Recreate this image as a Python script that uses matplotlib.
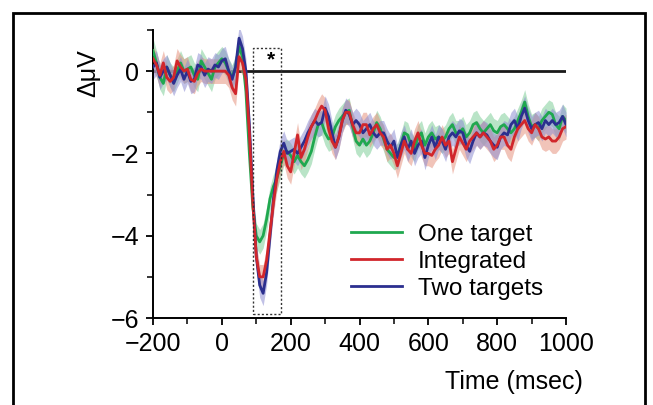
import numpy as np
import matplotlib.pyplot as plt
from matplotlib.patches import Rectangle
from matplotlib.ticker import MultipleLocator

# time axis, 10 ms steps
time_ms = list(range(-200, 1001, 10))

one_target = [
    0.5, 0.2, -0.15, -0.3, 0.1, -0.1, -0.2, 0.0, 0.2, 0.0,
    0.05, 0.1, -0.1, -0.2, 0.25, 0.1, -0.05, -0.2, 0.1, 0.2,
    0.3, 0.2, 0.0, -0.15, 0.1, 0.6, 0.35, -0.5, -2.0, -3.3,
    -4.0, -4.15, -4.0, -3.6, -3.1, -2.8, -2.6, -2.3, -2.0, -1.95,
    -2.05, -2.2, -2.05, -2.2, -2.3, -2.15, -1.95, -1.6, -1.3, -1.25,
    -1.5, -1.65, -1.6, -1.35, -1.2, -1.1, -1.0, -0.95, -1.35, -1.7,
    -1.8, -1.65, -1.8, -1.7, -1.5, -1.25, -1.4, -1.65, -1.9, -2.0,
    -2.1, -2.05, -1.8, -1.5, -1.55, -1.8, -1.9, -1.6, -1.5, -1.8,
    -1.6, -1.5, -1.65, -1.6, -1.7, -1.6, -1.4, -1.3, -1.5, -1.5,
    -1.4, -1.6, -1.5, -1.3, -1.25, -1.4, -1.5, -1.4, -1.3, -1.45,
    -1.5, -1.35, -1.3, -1.4, -1.5, -1.4, -1.2, -1.0, -0.75, -1.1,
    -1.35, -1.3, -1.4, -1.2, -1.1, -1.0, -1.05, -1.3, -1.4, -1.1,
    -1.2,
]

integrated = [
    0.3, 0.15, -0.1, 0.2, -0.15, -0.25, -0.15, 0.25, 0.1, 0.0,
    0.05, -0.2, -0.25, -0.05, 0.05, 0.0, 0.0, 0.0, 0.0, 0.0,
    0.0, 0.0, -0.1, -0.4, -0.55, 0.35, 0.2, -0.2, -1.5, -3.2,
    -4.5, -5.0, -5.0, -4.6, -3.9, -3.2, -2.6, -2.2, -1.95, -2.3,
    -2.45, -2.0, -1.55, -2.1, -1.9, -1.6, -1.35, -1.2, -1.0, -0.85,
    -0.95, -1.4, -1.7, -1.85, -1.6, -1.2, -1.0, -1.0, -1.3, -1.5,
    -1.5, -1.3, -1.3, -1.55, -1.4, -1.3, -1.5, -1.6, -1.9, -1.8,
    -2.0, -2.3, -2.0, -1.7, -1.9, -2.0, -1.7, -1.5, -1.8, -2.0,
    -2.0, -2.05, -1.9, -1.8, -1.6, -1.8, -1.7, -2.2, -1.9, -1.6,
    -1.75, -1.9, -1.7, -1.6, -1.5, -1.6, -1.5, -1.6, -1.7, -1.9,
    -1.8, -1.6, -1.6, -1.8, -1.9, -1.6, -1.4, -1.3, -1.2, -1.4,
    -1.5, -1.3, -1.4, -1.6, -1.65, -1.6, -1.7, -1.7, -1.6, -1.4,
    -1.35,
]

two_targets = [
    0.1, 0.2, -0.15, 0.0, 0.1, -0.1, -0.3, -0.1, 0.05, -0.2,
    0.0, -0.25, -0.2, 0.15, 0.1, -0.1, 0.05, 0.0, 0.15, 0.1,
    0.25, 0.3, 0.0, -0.2, 0.1, 0.8, 0.55, 0.0, -1.3, -3.0,
    -4.5, -5.2, -5.4, -4.9, -4.0, -3.1, -2.4, -1.95, -1.75, -2.0,
    -1.95, -1.9, -2.0, -1.85, -1.7, -1.5, -1.35, -1.2, -1.3, -1.25,
    -0.9, -1.1, -1.5, -1.85, -1.6, -1.2, -0.95, -1.05, -1.3, -1.2,
    -1.3, -1.5, -1.4, -1.3, -1.5, -1.6, -1.5, -1.5, -1.7, -1.85,
    -1.7, -2.1, -1.8, -1.6, -1.9, -1.7, -2.0, -1.8, -1.7, -2.1,
    -1.8, -1.6, -1.85, -1.6, -1.7, -1.9, -1.6, -1.5, -1.6, -1.45,
    -1.5, -1.8, -1.95, -1.7, -1.5, -1.6, -1.5, -1.55, -1.7, -1.8,
    -1.85, -1.6, -1.5, -1.55, -1.3, -1.2, -1.4, -1.1, -0.9, -1.2,
    -1.4, -1.3, -1.25, -1.4, -1.2, -1.3, -1.2, -1.3, -1.25, -1.1,
    -1.3,
]

# standard error half-widths of the shaded bands
sem_one = 0.3
sem_integrated = 0.3
sem_two = 0.3

labels = ["One target", "Integrated", "Two targets"]
colors = ["#1fa84f", "#d1262b", "#2b2f8f"]
band_colors = ["#80cf9a", "#e69480", "#8e8ed2"]

# significant window
sig_start, sig_end = 90, 172

plt.rcParams["font.family"] = ["Liberation Sans", "DejaVu Sans"]

fig = plt.figure(figsize=(6.53, 4.05), dpi=100)
ax = fig.add_axes([0.2343, 0.2148, 0.6325, 0.7112])

t = np.array(time_ms)
series = [np.array(one_target), np.array(integrated), np.array(two_targets)]
sems = [sem_one, sem_integrated, sem_two]

ax.plot([-200, 1000], [0, 0], color="#1a1a1a", lw=2.0, zorder=1)

for y, s, bc in zip(series, sems, band_colors):
    ax.fill_between(t, y - s, y + s, color=bc, alpha=0.55, lw=0, zorder=2)

handles = []
for idx in [0, 2, 1]:
    (h,) = ax.plot(t, series[idx], color=colors[idx], lw=2.0, zorder=3,
                   label=labels[idx])
    handles.append(h)
handles = [handles[0], handles[2], handles[1]]

ax.add_patch(Rectangle((sig_start, -5.9), sig_end - sig_start, 6.47,
                       fill=False, ls=(0, (1.5, 1.5)), lw=1.0,
                       ec="#333333", zorder=4))
ax.text(143, 0.28, "*", ha="center", va="center", fontsize=15,
        fontweight="bold")

ax.set_xlim(-200, 1000)
ax.set_ylim(-6, 1)
ax.set_xticks([-200, 0, 200, 400, 600, 800, 1000])
ax.set_xticklabels(["\u2212200", "0", "200", "400", "600", "800", "1000"])
ax.xaxis.set_minor_locator(MultipleLocator(100))
ax.set_yticks([-6, -4, -2, 0])
ax.set_yticklabels(["\u22126", "\u22124", "\u22122", "0"])
ax.yaxis.set_minor_locator(MultipleLocator(1))

for side in ["top", "right"]:
    ax.spines[side].set_visible(False)
for side in ["left", "bottom"]:
    ax.spines[side].set_linewidth(1.4)
ax.tick_params(which="major", length=5, width=1.3, labelsize=18, pad=5)
ax.tick_params(which="minor", length=4, width=1.1)

leg = ax.legend(handles=handles, labels=labels, loc="center left",
                bbox_to_anchor=(0.48, 0.195), frameon=False, fontsize=17.5,
                handlelength=2.1, handletextpad=0.65, labelspacing=0.2,
                borderaxespad=0.0, borderpad=0.0)

fig.text(0.135, 0.82, "\u0394\u03bcV", rotation=90, ha="center",
         va="center", fontsize=18)
fig.text(0.893, 0.057, "Time (msec)", ha="right", va="center",
         fontsize=18)

# outer frame
fig.patches.append(Rectangle((13 / 653, -0.05), (645 - 13) / 653, 1 - 13 / 405 + 0.05,
                             transform=fig.transFigure, fill=False,
                             ec="black", lw=2))

fig.savefig("out.png", dpi=100)
